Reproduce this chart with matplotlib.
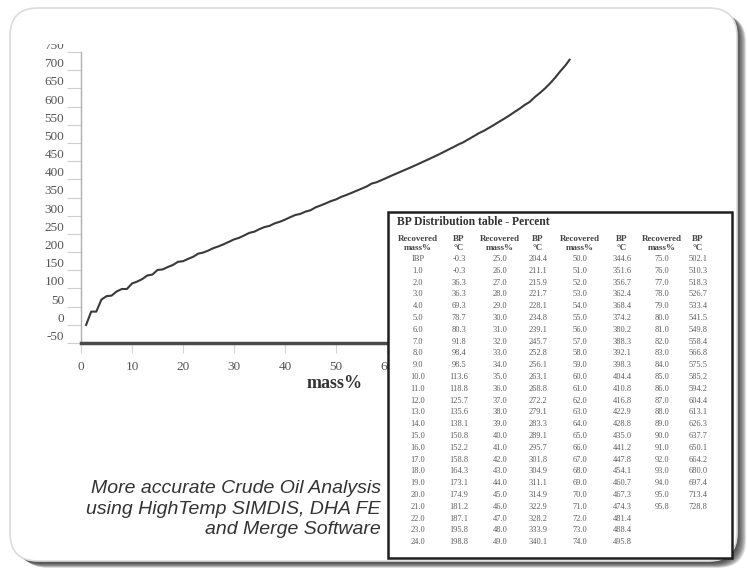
import matplotlib
matplotlib.use("Agg")
import matplotlib.pyplot as plt
from matplotlib.patches import FancyBboxPatch, Rectangle

# BP distribution table (recovered mass% -> boiling point, degC)
mass_labels = ["IBP"] + ["%.1f" % m for m in range(1, 96)] + ["95.8"]
mass_pct = [0.0] + [float(m) for m in range(1, 96)] + [95.8]
bp_c = [
    -0.3, -0.3, 36.3, 36.3, 69.3, 78.7, 80.3, 91.8, 98.4, 98.5,
    113.6, 118.8, 125.7, 135.6, 138.1, 150.8, 152.2, 158.8, 164.3, 173.1,
    174.9, 181.2, 187.1, 195.8, 198.8,
    204.4, 211.1, 215.9, 221.7, 228.1, 234.8, 239.1, 245.7, 252.8, 256.1,
    263.1, 268.8, 272.2, 279.1, 283.3, 289.1, 295.7, 301.8, 304.9, 311.1,
    314.9, 322.9, 328.2, 333.9, 340.1,
    344.6, 351.6, 356.7, 362.4, 368.4, 374.2, 380.2, 388.3, 392.1, 398.3,
    404.4, 410.8, 416.8, 422.9, 428.8, 435.0, 441.2, 447.8, 454.1, 460.7,
    467.3, 474.3, 481.4, 488.4, 495.8,
    502.1, 510.3, 518.3, 526.7, 533.4, 541.5, 549.8, 558.4, 566.8, 575.5,
    585.2, 594.2, 604.4, 613.1, 626.3, 637.7, 650.1, 664.2, 680.0, 697.4,
    713.4, 728.8,
]

x_ticks = [0, 10, 20, 30, 40, 50, 60]
y_ticks = [-50, 0, 50, 100, 150, 200, 250, 300, 350, 400, 450, 500, 550, 600, 650, 700, 750]

caption = "More accurate Crude Oil Analysis\nusing HighTemp SIMDIS, DHA FE\nand Merge Software"
table_title = "BP Distribution table - Percent"

W, H = 747, 571
fig = plt.figure(figsize=(W / 100, H / 100), dpi=100)
fig.patch.set_facecolor("white")

# background card with shadow, in pixel coordinates
bg = fig.add_axes([0, 0, 1, 1], zorder=0)
bg.set_xlim(0, W)
bg.set_ylim(H, 0)
bg.axis("off")
for i in range(9):
    bg.add_patch(FancyBboxPatch((12 + i, 10 + i * 0.6), 726, 553,
                                boxstyle="round,pad=0,rounding_size=28",
                                fc="#2a2a2a", ec="none", alpha=0.16))
bg.add_patch(FancyBboxPatch((10, 8), 727, 553,
                            boxstyle="round,pad=0,rounding_size=28",
                            fc="white", ec="#dcdcdc", lw=1.2))

# main chart
ax = fig.add_axes([81 / W, 1 - 343 / H, 510 / W, 291 / H], zorder=1)
ax.patch.set_alpha(0)
ax.plot(mass_pct[1:], bp_c[1:], color="#3a3a3a", lw=1.5)
ax.set_xlim(0, 100)
ax.set_ylim(-50, 750)
ax.set_xticks(x_ticks)
ax.set_yticks(y_ticks)
ax.set_yticklabels([str(v) for v in y_ticks])
for s in ["top", "right"]:
    ax.spines[s].set_visible(False)
ax.spines["left"].set_color("#b0b0b0")
ax.spines["left"].set_linewidth(1.0)
ax.spines["bottom"].set_color("#4a4a4a")
ax.spines["bottom"].set_linewidth(2.5)
ax.tick_params(axis="y", length=10, width=0.8, color="#cfcfcf", pad=2,
               labelsize=9.5, labelcolor="#555555", labelfontfamily="Liberation Serif")
ax.tick_params(axis="x", length=7, width=0.8, color="#d5d5d5", pad=6,
               labelsize=9.5, labelcolor="#555555", labelfontfamily="Liberation Serif")
for lbl in ax.get_yticklabels():
    lbl.set_va("bottom")
ax.set_xlabel("mass%", family="Liberation Serif", fontweight="bold",
              fontsize=13, color="#333333")
ax.xaxis.set_label_coords((335 - 81) / 510, -(375 - 343) / 291)

# overlay: table and caption
ov = fig.add_axes([0, 0, 1, 1], zorder=2)
ov.set_xlim(0, W)
ov.set_ylim(H, 0)
ov.axis("off")
ov.patch.set_alpha(0)

# hide the top of the clipped 750 label
ov.add_patch(Rectangle((30, 30), 48, 14, fc="white", ec="none"))

ov.add_patch(Rectangle((388, 212), 344, 346, fc="white", ec="#1e1e1e", lw=1.8))
ov.text(397, 222, table_title, family="Liberation Serif", fontweight="bold",
        fontsize=8.4, color="#333333", ha="left", va="center")

col_x = [418, 459, 500, 538, 580, 622, 662, 698]
row0, dy = 259, 11.8
hdr = dict(family="Liberation Serif", fontweight="bold", fontsize=6.5,
           color="#444444", ha="center", va="center")
for g in range(4):
    cx_m, cx_b = col_x[2 * g], col_x[2 * g + 1]
    ov.text(cx_m, 239, "Recovered", **hdr)
    ov.text(cx_m, 248, "mass%", **hdr)
    ov.text(cx_b, 239, "BP", **hdr)
    ov.text(cx_b, 248, "°C", **hdr)
    start = g * 25
    for r in range(25):
        k = start + r
        if k >= len(mass_labels):
            break
        y = row0 + r * dy
        ov.text(cx_m, y, mass_labels[k], family="Liberation Serif", fontsize=6,
                color="#5e5e5e", ha="center", va="center")
        ov.text(cx_b, y, "%.1f" % bp_c[k], family="Liberation Serif", fontsize=6,
                color="#5e5e5e", ha="center", va="center")

ov.text(381, 509, caption, family="Liberation Sans", style="italic",
        fontsize=14, color="#333333", ha="right", va="center", linespacing=1.3,
        multialignment="right")

fig.savefig("out.png", dpi=100)
